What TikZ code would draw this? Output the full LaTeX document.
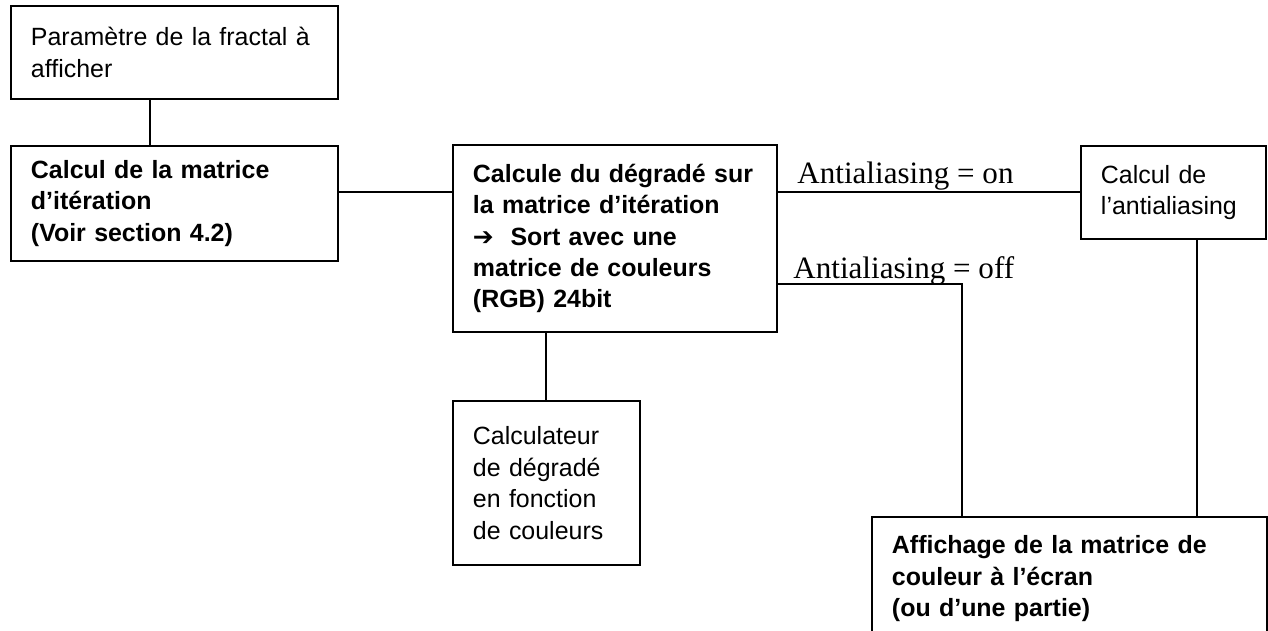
\documentclass[tikz,border=0pt]{standalone}
\usepackage{fontspec}
\setmainfont{Liberation Sans}
\newfontfamily\labelfont{Liberation Serif}
\newfontfamily\arrowfont{DejaVu Sans}

\tikzset{
  box/.style={draw, line width=1.1pt, anchor=north west, align=left,
    inner xsep=0.4cm, inner ysep=0pt,
    font=\fontsize{14.2}{17.9}\selectfont},
  link/.style={line width=1.1pt},
  lbl/.style={anchor=base west, inner sep=0pt,
    font=\labelfont\fontsize{17.7}{20}\selectfont}
}

\begin{document}
\begin{tikzpicture}[x=0.02cm, y=-0.02cm]
      \useasboundingbox (0,0) rectangle (1268,630);
      \clip (0,0) rectangle (1268,630);

      % Draw boxes
      \node[box, text width=5.74cm, minimum height=1.86cm] (param) at (10,5)
        {Paramètre de la fractal à\\afficher};
      \node[box, text width=5.74cm, minimum height=2.3cm] (iter) at (10,145)
        {\bfseries Calcul de la matrice\\\bfseries d’itération\\\bfseries (Voir section 4.2)};
      \node[box, text width=5.68cm, minimum height=3.74cm] (grad) at (452,144)
        {\bfseries Calcule du dégradé sur\\\bfseries la matrice d’itération\\{\arrowfont\bfseries ➔}\bfseries\ \ Sort avec une\\\bfseries matrice de couleurs\\\bfseries (RGB) 24bit};
      \node[box, text width=2.9cm, minimum height=1.86cm] (aa) at (1080,145)
        {Calcul de\\l’antialiasing};
      \node[box, text width=2.94cm, minimum height=3.28cm] (palette) at (452,400)
        {Calculateur\\de dégradé\\en fonction\\de couleurs};
      \node[box, text width=7.1cm, minimum height=2.48cm] (screen) at (871,516)
        {\bfseries Affichage de la matrice de\\\bfseries couleur à l’écran\\\bfseries (ou d’une partie)};

      % Labels on the two branches
      \node[lbl] (onlbl) at (797,183) {Antialiasing = on};
      \node[lbl] (offlbl) at (793,278) {Antialiasing = off};

      % Helper coordinates
      \coordinate (paramcol) at (150,0);
      \coordinate (onrow) at (0,192);
      \coordinate (offrow) at (0,284);
      \coordinate (offcol) at (962,0);
      \coordinate (aacol) at (1197,0);

      % Connect the boxes
      \draw[link] (param.south -| paramcol) -- (iter.north -| paramcol);
      \draw[link] (iter.east |- onrow) -- (grad.west |- onrow);
      \draw[link] (grad.east |- onrow) -- (aa.west |- onrow);
      \draw[link] (grad.east |- offrow) -- (offcol |- offrow) -- (offcol |- screen.north);
      \draw[link] (aa.south -| aacol) -- (screen.north -| aacol);
      \draw[link] (grad.south -| palette.north) -- (palette.north);
    \end{tikzpicture}
\end{document}
